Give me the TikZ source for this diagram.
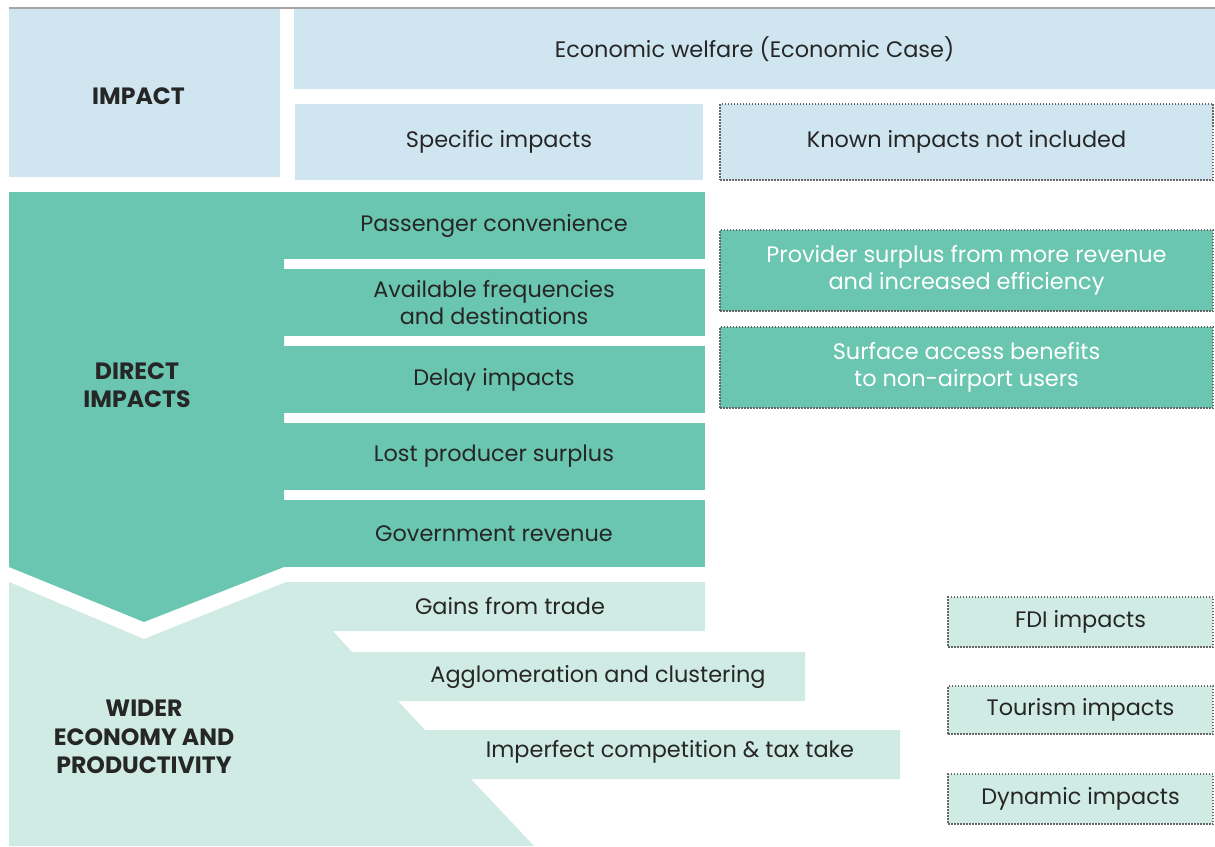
\documentclass[tikz,border=0pt]{standalone}
\usepackage{fontspec}
\setmainfont{Poppins}
\usepackage{xcolor}
\usetikzlibrary{positioning,calc}
\definecolor{impblue}{HTML}{CFE6F1}
\definecolor{dirgreen}{HTML}{6AC6B0}
\definecolor{widgreen}{HTML}{CFEBE4}
\definecolor{txtgray}{HTML}{262626}
\definecolor{dotgray}{HTML}{666666}
\tikzset{
	box/.style={inner sep=0pt, outer sep=0pt, anchor=north west, align=center, text=txtgray, font=\fontsize{11.2}{13.6}\selectfont},
	bluebox/.style={box, fill=impblue},
	rowbox/.style={box, fill=dirgreen, minimum width=211pt, minimum height=33.5pt},
	notincl/.style={box, draw=dotgray, line width=0.75pt, dash pattern=on 0.75pt off 0.75pt},
	head/.style={align=center, text=txtgray, font=\fontsize{11.8}{14.25}\selectfont\bfseries},
	rowtext/.style={align=center, text=txtgray, font=\fontsize{11.2}{13.6}\selectfont},
}

\begin{document}
\begin{tikzpicture}[x=0.5pt, y=-0.5pt]
		\useasboundingbox (0,0) rectangle (1215,846);
		\draw[gray!70, line width=0.75pt] (9,8) -- (1215,8);
		
		\node[bluebox, minimum width=135.5pt, minimum height=84pt] (impact) at (9,9) {};
		\node[head] (impactlbl) at ([xshift=-3pt,yshift=-1.5pt]impact.center) {IMPACT};
		\node[bluebox, minimum width=460.5pt, minimum height=40pt] (welfare) at (294,9) {Economic welfare (Economic Case)};
		\node[bluebox, minimum width=204pt, minimum height=38pt] (specific) at (295,104) {Specific impacts};
		\node[notincl, fill=impblue, minimum width=246.5pt, minimum height=38pt] (known) at (720,104) {Known impacts not included};
		
		\fill[dirgreen] (9,192) -- (284,192) -- (284,567) -- (144,622) -- (9,567) -- cycle;
		\node[head] (direct) at (137,385) {DIRECT\\IMPACTS};
		\node[rowbox] (conv) at (283,192) {Passenger convenience};
		\node[rowbox] (freq) at (283,269) {Available frequencies\\and destinations};
		\node[rowbox] (delay) at (283,346) {Delay impacts};
		\node[rowbox] (lost) at (283,423) {Lost producer surplus};
		\node[rowbox] (govt) at (283,500) {Government revenue};
		
		\node[notincl, fill=dirgreen, text=white, minimum width=246.5pt, minimum height=40.5pt] (provider) at (720,230) {Provider surplus from more revenue\\and increased efficiency};
		\node[notincl, fill=dirgreen, text=white, minimum width=246.5pt, minimum height=40.5pt] (surface) at (720,327) {Surface access benefits\\to non-airport users};
		
		\fill[widgreen] (9,582) -- (144,639) -- (286,582) -- (705,582) -- (705,631) -- (333,631) -- (352,652) -- (805,652) -- (805,701) -- (398,701) -- (425,730) -- (900,730) -- (900,779) -- (471,779) -- (534,846) -- (9,846) -- cycle;
		\node[head] (wider) at (144,737) {WIDER\\ECONOMY AND\\PRODUCTIVITY};
		\node[rowtext] (trade) at (510,606) {Gains from trade};
		\node[rowtext] (agglo) at (598,677) {Agglomeration and clustering};
		\node[rowtext] (imperf) at (670,752) {Imperfect competition \& tax take};
		
		\node[notincl, fill=widgreen, minimum width=132.5pt, minimum height=25pt] (fdi) at (948,597) {FDI impacts};
		\node[notincl, fill=widgreen, minimum width=132.5pt, minimum height=24pt] (tourism) at (948,686) {Tourism impacts};
		\node[notincl, fill=widgreen, minimum width=132.5pt, minimum height=25pt] (dynamic) at (948,774) {Dynamic impacts};
	\end{tikzpicture}
\end{document}
